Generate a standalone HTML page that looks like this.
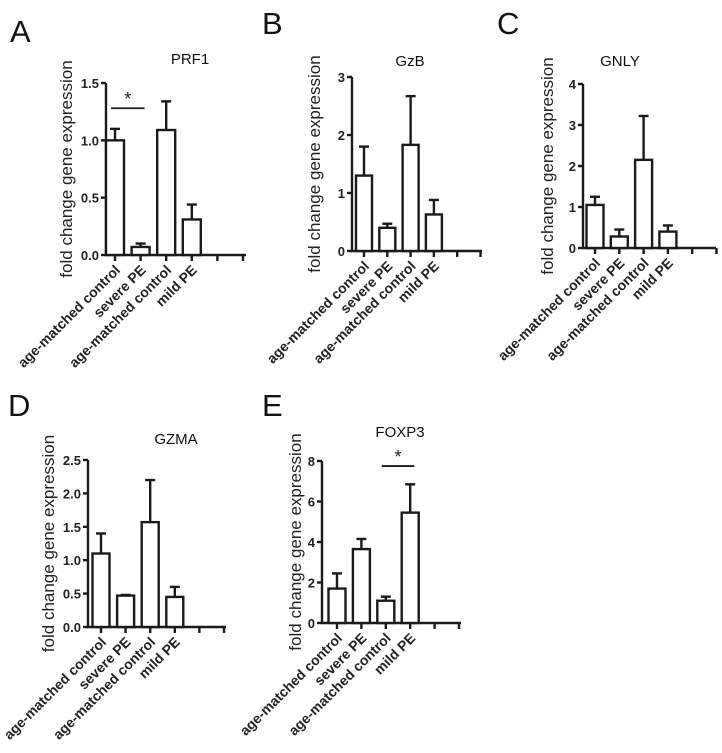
<!DOCTYPE html>
<html><head><meta charset="utf-8"><style>
body{margin:0;background:#fff}
svg{display:block;font-family:"Liberation Sans",Arial,sans-serif}
</style></head><body>
<svg id="fig" width="722" height="753" viewBox="0 0 722 753"></svg>
<script>
const categories = ["age-matched control","severe  PE","age-matched control","mild PE"];
const prf1Values = [1.0, 0.07, 1.09, 0.31];
const prf1Errors = [1.1, 0.1, 1.34, 0.44];
const gzbValues = [1.3, 0.4, 1.83, 0.63];
const gzbErrors = [1.8, 0.47, 2.67, 0.88];
const gnlyValues = [1.05, 0.28, 2.15, 0.4];
const gnlyErrors = [1.25, 0.45, 3.22, 0.55];
const gzmaValues = [1.1, 0.47, 1.57, 0.45];
const gzmaErrors = [1.4, 0.48, 2.2, 0.6];
const foxp3Values = [1.7, 3.65, 1.1, 5.45];
const foxp3Errors = [2.45, 4.15, 1.3, 6.85];
const prf1Ticks = ["0.0","0.5","1.0","1.5"];
const gzbTicks = ["0","1","2","3"];
const gnlyTicks = ["0","1","2","3","4"];
const gzmaTicks = ["0.0","0.5","1.0","1.5","2.0","2.5"];
const foxp3Ticks = ["0","2","4","6","8"];

const svg = document.getElementById('fig');
const NS = 'http://www.w3.org/2000/svg';
function mk(tag, attrs, parent){
  const e = document.createElementNS(NS, tag);
  for (const k in attrs) e.setAttribute(k, attrs[k]);
  (parent||svg).appendChild(e);
  return e;
}
function panel(cfg){
  const g = mk('g', {});
  
  
  const ymax = parseFloat(cfg.ticks[cfg.ticks.length-1]);
  const y = v => cfg.y0 - (v / ymax) * (cfg.y0 - cfg.ytop);
  const x = i => cfg.tick0 + i * cfg.sp;
  const st = {stroke:'#1a1a1a','stroke-width':2.4,fill:'none'};
  const L = mk('text', {x:cfg.lx, y:cfg.ly, 'font-size':31, fill:'#111'}, g); L.textContent = cfg.letter;
   
  const T = mk('text', {x:cfg.tx, y:cfg.ty, 'font-size':15, 'text-anchor':'middle', fill:'#111'}, g); T.textContent = cfg.title;
   
  const yt = mk('text', {x:0, y:0, 'font-size':17, 'text-anchor':'middle', fill:'#222', transform:`translate(${cfg.yx},${(cfg.y0+cfg.ytop)/2}) rotate(-90)`}, g);
  yt.textContent = 'fold change gene expression';
   
  const ya = mk('line', Object.assign({x1:cfg.ox, y1:cfg.ytop, x2:cfg.ox, y2:cfg.y0+1}, st), g);
   
  const xa = mk('line', Object.assign({x1:cfg.ox-1, y1:cfg.y0, x2:cfg.end, y2:cfg.y0}, st), g);
   
  cfg.ticks.forEach(t => {
    const yy = y(parseFloat(t));
    mk('line', Object.assign({x1:cfg.ox-5, y1:yy, x2:cfg.ox, y2:yy}, st), g);
    const tl = mk('text', {x:cfg.ox-7, y:yy+5, 'font-size':13, 'font-weight':'bold', 'text-anchor':'end', fill:'#222'}, g);
    tl.textContent = t;
     
  });
  for (let i = 0; i < 6; i++) mk('line', Object.assign({x1:x(i), y1:cfg.y0, x2:x(i), y2:cfg.y0+6}, st), g);
  cfg.values.forEach((v, i) => {
    const cx = x(i), top = y(v), et = y(cfg.errors[i]);
    mk('line', Object.assign({x1:cx, y1:top, x2:cx, y2:et}, st), g);
    mk('line', Object.assign({x1:cx-5, y1:et, x2:cx+5, y2:et}, st), g);
    const b = mk('rect', Object.assign({x:cx-cfg.bw/2, y:top, width:cfg.bw, height:cfg.y0-top}, st, {fill:'#fff'}), g);
     
    const xl = mk('text', {x:0, y:0, 'font-size':14, 'font-weight':'bold', 'text-anchor':'end', fill:'#222', transform:`translate(${cx+6},${cfg.y0+16}) rotate(-45)`}, g);
    xl.textContent = categories[i];
     
  });
  if (cfg.sig){
    const [a, b2, lvl] = cfg.sig;
    const sy = y(lvl);
    mk('line', {x1:x(a)-4, y1:sy, x2:x(b2)+4, y2:sy, stroke:'#1a1a1a','stroke-width':1.8}, g);
    const s = mk('text', {x:(x(a)+x(b2))/2, y:sy-3, 'font-size':18, 'text-anchor':'middle', fill:'#222'}, g);
    s.textContent = '*';
     
  }
}
panel({id:'a', letter:'A', lx:10, ly:42, title:'PRF1', tx:190, ty:64, yx:72, ox:106, y0:255, ytop:83, tick0:115, sp:25.6, bw:18, end:246, ticks:prf1Ticks, values:prf1Values, errors:prf1Errors, sig:[0,1,1.28]});
panel({id:'b', letter:'B', lx:262, ly:34, title:'GzB', tx:410, ty:66, yx:320, ox:352, y0:251, ytop:77, tick0:364, sp:23.3, bw:16, end:482, ticks:gzbTicks, values:gzbValues, errors:gzbErrors});
panel({id:'c', letter:'C', lx:497, ly:34, title:'GNLY', tx:620, ty:66, yx:553, ox:583, y0:248, ytop:84, tick0:595, sp:24.3, bw:17, end:716, ticks:gnlyTicks, values:gnlyValues, errors:gnlyErrors});
panel({id:'d', letter:'D', lx:8, ly:416, title:'GZMA', tx:176, ty:444, yx:54, ox:88, y0:627, ytop:460, tick0:101, sp:24.6, bw:17, end:226, ticks:gzmaTicks, values:gzmaValues, errors:gzmaErrors});
panel({id:'e', letter:'E', lx:262, ly:416, title:'FOXP3', tx:400, ty:437, yx:301, ox:322, y0:623, ytop:461, tick0:337, sp:24.4, bw:17, end:461, ticks:foxp3Ticks, values:foxp3Values, errors:foxp3Errors, sig:[2,3,7.75]});
</script>
</body></html>
